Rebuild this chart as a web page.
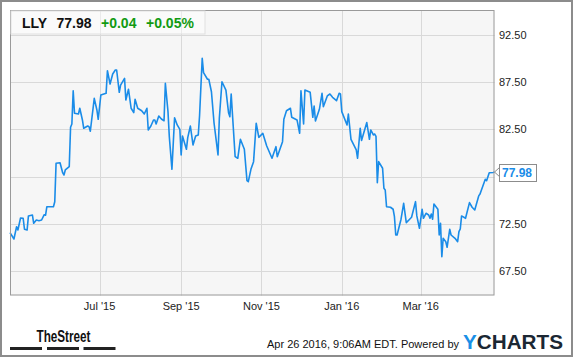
<!DOCTYPE html>
<html>
<head>
<meta charset="utf-8">
<script src="https://cdn.jsdelivr.net/npm/d3@7"></script>
<style>
  body { margin: 0; background: #fff; }
  svg { display: block; font-family: Arial, 'Liberation Sans', sans-serif; }
</style>
</head>
<body>
<div id="chart"></div>
<script>
// LLY daily close
var dates = [
  '2015-04-24','2015-04-27','2015-04-29','2015-04-30','2015-05-02','2015-05-04','2015-05-05','2015-05-07',
  '2015-05-08','2015-05-11','2015-05-12','2015-05-14','2015-05-16','2015-05-18','2015-05-20','2015-05-21',
  '2015-05-22','2015-05-27','2015-05-28','2015-05-29','2015-06-01','2015-06-03','2015-06-04','2015-06-05',
  '2015-06-08','2015-06-09','2015-06-10','2015-06-11','2015-06-12','2015-06-15','2015-06-16','2015-06-18',
  '2015-06-19','2015-06-22','2015-06-23','2015-06-24','2015-06-27','2015-06-29','2015-06-30','2015-07-02',
  '2015-07-06','2015-07-07','2015-07-09','2015-07-11','2015-07-13','2015-07-14','2015-07-16','2015-07-17',
  '2015-07-20','2015-07-21','2015-07-23','2015-07-25','2015-07-27','2015-07-28','2015-07-30','2015-08-02',
  '2015-08-04','2015-08-06','2015-08-07','2015-08-09','2015-08-11','2015-08-12','2015-08-13','2015-08-15',
  '2015-08-17','2015-08-19','2015-08-20','2015-08-22','2015-08-23','2015-08-25','2015-08-27','2015-08-29',
  '2015-08-31','2015-09-01','2015-09-02','2015-09-05','2015-09-06','2015-09-08','2015-09-10','2015-09-12',
  '2015-09-14','2015-09-15','2015-09-17','2015-09-18','2015-09-21','2015-09-22','2015-09-24','2015-09-26',
  '2015-09-29','2015-09-30','2015-10-02','2015-10-05','2015-10-07','2015-10-08','2015-10-09','2015-10-12',
  '2015-10-14','2015-10-16','2015-10-19','2015-10-21','2015-10-22','2015-10-24','2015-10-26','2015-10-28',
  '2015-10-30','2015-11-02','2015-11-05','2015-11-09','2015-11-12','2015-11-13','2015-11-17','2015-11-18',
  '2015-11-20','2015-11-23','2015-11-24','2015-11-28','2015-11-30','2015-12-01','2015-12-03','2015-12-04',
  '2015-12-08','2015-12-10','2015-12-11','2015-12-12','2015-12-15','2015-12-17','2015-12-18','2015-12-21',
  '2015-12-23','2015-12-25','2015-12-28','2015-12-30','2015-12-31','2016-01-01','2016-01-05','2016-01-06',
  '2016-01-08','2016-01-12','2016-01-13','2016-01-15','2016-01-16','2016-01-20','2016-01-22','2016-01-23',
  '2016-01-25','2016-01-26','2016-01-27','2016-01-28','2016-01-29','2016-02-01','2016-02-02','2016-02-03',
  '2016-02-04','2016-02-07','2016-02-09','2016-02-10','2016-02-11','2016-02-12','2016-02-15','2016-02-17',
  '2016-02-19','2016-02-21','2016-02-23','2016-02-26','2016-02-27','2016-02-29','2016-03-02','2016-03-03',
  '2016-03-05','2016-03-07','2016-03-08','2016-03-09','2016-03-10','2016-03-11','2016-03-14','2016-03-15',
  '2016-03-16','2016-03-17','2016-03-18','2016-03-20','2016-03-21','2016-03-23','2016-03-24','2016-03-27',
  '2016-03-29','2016-03-30','2016-03-31','2016-04-01','2016-04-04','2016-04-07','2016-04-09','2016-04-11',
  '2016-04-14','2016-04-15','2016-04-19','2016-04-20','2016-04-22','2016-04-25','2016-04-26'
];
var prices = [
  71.56,70.89,72.19,71.84,73.11,73.08,71.92,71.84,
  73.33,73.43,72.55,72.90,72.83,72.90,73.46,73.40,
  74.31,74.31,74.84,78.91,78.97,77.91,77.67,78.20,
  78.55,82.72,83.07,86.60,84.21,84.13,84.74,83.50,
  82.62,82.86,82.79,82.30,85.79,84.56,83.57,86.14,
  86.32,88.72,87.31,88.37,88.79,88.79,86.43,87.20,
  87.91,85.61,86.75,84.74,84.27,85.69,84.74,84.48,
  84.13,84.74,82.44,82.86,83.50,83.50,83.07,83.92,
  83.60,83.42,87.38,84.38,81.73,78.27,83.74,82.97,
  82.51,79.79,81.80,80.39,81.62,82.86,80.85,81.80,
  81.91,84.00,90.03,88.51,87.81,87.81,86.49,83.15,
  79.79,83.68,87.55,86.67,84.27,83.85,86.25,79.61,
  79.44,81.45,80.39,77.07,76.96,78.27,79.08,83.15,
  81.66,82.09,80.74,79.44,80.67,79.61,81.20,83.57,
  84.48,84.74,83.78,83.50,82.09,86.60,83.07,86.67,
  86.43,83.78,84.98,83.39,84.63,86.32,84.90,86.04,
  86.25,85.90,85.54,86.32,86.25,84.38,82.97,84.13,
  81.45,80.32,79.44,82.62,81.32,83.23,81.45,82.44,
  81.91,82.01,81.75,76.85,79.08,78.38,76.26,76.08,
  74.31,74.25,74.04,73.25,71.31,71.31,72.98,74.67,
  72.62,72.90,73.19,74.84,73.33,72.02,74.04,73.08,
  73.61,73.43,73.08,73.54,72.98,74.60,74.04,71.31,
  72.55,69.01,70.96,70.60,70.01,71.92,71.31,70.96,
  70.60,71.66,71.95,73.33,73.08,74.74,74.25,73.96,
  75.45,75.66,77.21,77.07,77.91,77.94,77.98
];

var yTicks = [67.5, 72.5, 77.5, 82.5, 87.5, 92.5];
var xTicks = ['2015-07-01', '2015-09-01', '2015-11-01', '2016-01-01', '2016-03-01'];
var xDomain = ['2015-04-24', '2016-04-26'];
var yDomain = [64.9, 95.15];

var ticker = 'LLY', lastPrice = '77.98', change = '+0.04', changePct = '+0.05%';
var stamp = 'Apr 26 2016, 9:06AM EDT. Powered by';

var width = 575, height = 358;
var plot = { left: 10, right: 494.5, top: 10, bottom: 295.5 };
var lineColor = '#1a8ce8';

var parse = d3.timeParse('%Y-%m-%d');
var data = dates.map(function (d, i) {
  return { date: parse(d), value: prices[i] };
});

var svg = d3
  .select('#chart')
  .append('svg')
  .attr('width', width)
  .attr('height', height);

// outer frame
svg
  .append('rect')
  .attr('x', 1)
  .attr('y', 1)
  .attr('width', 571)
  .attr('height', 355)
  .attr('fill', '#fff')
  .attr('stroke', '#8c8c8c')
  .attr('stroke-width', 2);

var xScale = d3
  .scaleTime()
  .domain(xDomain.map(parse))
  .range([plot.left, plot.right]);

var yScale = d3
  .scaleLinear()
  .domain(yDomain)
  .range([plot.bottom, plot.top]);

// plot background
svg
  .append('rect')
  .attr('x', plot.left)
  .attr('y', plot.top)
  .attr('width', plot.right - plot.left)
  .attr('height', plot.bottom - plot.top)
  .attr('fill', '#f6f6f6');

// grid lines
svg
  .append('g')
  .selectAll('line')
  .data(yTicks)
  .enter()
  .append('line')
  .attr('x1', plot.left)
  .attr('x2', plot.right)
  .attr('y1', function (d) { return Math.round(yScale(d)) + 0.5; })
  .attr('y2', function (d) { return Math.round(yScale(d)) + 0.5; })
  .attr('stroke', '#d9d9d9');

svg
  .append('g')
  .selectAll('line')
  .data(xTicks)
  .enter()
  .append('line')
  .attr('x1', function (d) { return Math.round(xScale(parse(d))) + 0.5; })
  .attr('x2', function (d) { return Math.round(xScale(parse(d))) + 0.5; })
  .attr('y1', plot.top)
  .attr('y2', plot.bottom)
  .attr('stroke', '#d9d9d9');

// price line
var line = d3
  .line()
  .x(function (d) { return xScale(d.date); })
  .y(function (d) { return yScale(d.value); });

svg
  .append('path')
  .datum(data)
  .attr('d', line)
  .attr('fill', 'none')
  .attr('stroke', lineColor)
  .attr('stroke-width', 1.6)
  .attr('stroke-linejoin', 'round');

// plot border
svg
  .append('rect')
  .attr('x', plot.left + 0.5)
  .attr('y', plot.top + 0.5)
  .attr('width', plot.right - plot.left - 1)
  .attr('height', plot.bottom - plot.top - 1)
  .attr('fill', 'none')
  .attr('stroke', '#9a9a9a');

// header box
var header = svg.append('g');
header
  .append('rect')
  .attr('x', plot.left + 1)
  .attr('y', plot.top + 1)
  .attr('width', 194)
  .attr('height', 23)
  .attr('fill', '#fff')
  .attr('fill-opacity', 0.45)
  .attr('stroke', '#e0e0e0');
header
  .append('text')
  .attr('x', 22)
  .attr('y', 28)
  .style('font-size', '14px')
  .style('font-weight', 'bold')
  .attr('fill', '#111')
  .text(ticker);
header
  .append('text')
  .attr('x', 56.5)
  .attr('y', 28)
  .style('font-size', '14px')
  .style('font-weight', 'bold')
  .attr('fill', '#111')
  .text(lastPrice);
header
  .append('text')
  .attr('x', 101)
  .attr('y', 28)
  .style('font-size', '14px')
  .style('font-weight', 'bold')
  .attr('fill', '#129a12')
  .text(change);
header
  .append('text')
  .attr('x', 146)
  .attr('y', 28)
  .style('font-size', '14px')
  .style('font-weight', 'bold')
  .attr('fill', '#129a12')
  .text(changePct);

// right axis labels (skip the one hidden by the last-price flag)
var last = data[data.length - 1];
var lastY = yScale(last.value);
svg
  .append('g')
  .selectAll('text')
  .data(yTicks.filter(function (d) { return Math.abs(yScale(d) - lastY) > 10; }))
  .enter()
  .append('text')
  .attr('x', 499)
  .attr('y', function (d) { return yScale(d); })
  .attr('dy', '0.35em')
  .style('font-size', '11px')
  .attr('fill', '#222')
  .text(d3.format('.2f'));

// bottom axis labels
var monthFormat = d3.timeFormat("%b '%y");
svg
  .append('g')
  .selectAll('text')
  .data(xTicks)
  .enter()
  .append('text')
  .attr('x', function (d) { return xScale(parse(d)); })
  .attr('y', 310)
  .attr('text-anchor', 'middle')
  .style('font-size', '11px')
  .attr('fill', '#222')
  .text(function (d) { return monthFormat(parse(d)); });

// last price flag
var flag = svg.append('g');
flag
  .append('path')
  .attr('d', 'M500,' + (lastY - 5) + 'L494.5,' + lastY + 'L500,' + (lastY + 5))
  .attr('fill', '#fff')
  .attr('stroke', '#8c8c8c');
flag
  .append('rect')
  .attr('x', 499.5)
  .attr('y', Math.round(lastY) - 7.5)
  .attr('width', 37)
  .attr('height', 17)
  .attr('fill', '#fff')
  .attr('stroke', '#8c8c8c');
flag
  .append('text')
  .attr('x', 502)
  .attr('y', lastY)
  .attr('dy', '0.38em')
  .style('font-size', '12px')
  .style('font-weight', 'bold')
  .attr('fill', lineColor)
  .text(d3.format('.2f')(last.value));

// footer: TheStreet logo
var logo = svg.append('g');
logo
  .append('text')
  .attr('x', 36.5)
  .attr('y', 342)
  .attr('textLength', 54)
  .attr('lengthAdjust', 'spacingAndGlyphs')
  .style('font-size', '16px')
  .style('font-weight', 'bold')
  .attr('fill', '#111')
  .text('TheStreet');
logo
  .selectAll('rect')
  .data([[10, 42], [47, 79], [83.5, 115.5]])
  .enter()
  .append('rect')
  .attr('x', function (d) { return d[0]; })
  .attr('y', 347)
  .attr('width', function (d) { return d[1] - d[0]; })
  .attr('height', 3)
  .attr('fill', '#222');

// footer: timestamp and YCharts
svg
  .append('text')
  .attr('x', 459)
  .attr('y', 348)
  .attr('text-anchor', 'end')
  .style('font-size', '11px')
  .attr('fill', '#111')
  .text(stamp);

var yc = svg
  .append('text')
  .attr('x', 463)
  .attr('y', 349)
  .attr('textLength', 100)
  .attr('lengthAdjust', 'spacingAndGlyphs')
  .style('font-size', '20px')
  .style('font-weight', 'bold');
yc.append('tspan').attr('fill', '#1a8fe6').text('Y');
yc.append('tspan').attr('fill', '#1b2733').text('CHARTS');
</script>
</body>
</html>
